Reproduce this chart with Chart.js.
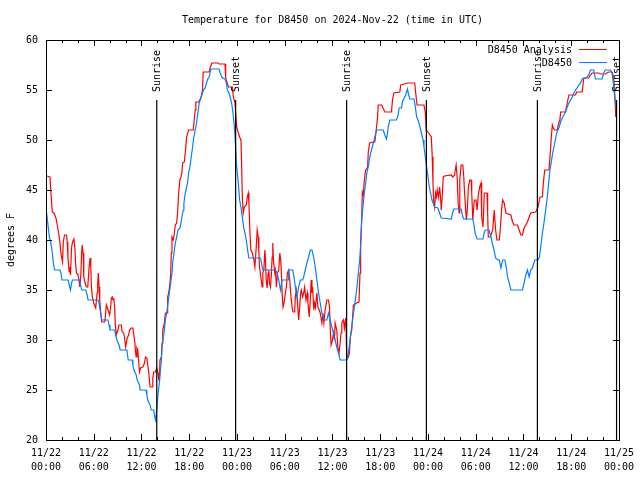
<!DOCTYPE html>
<html>
<head>
<meta charset="utf-8">
<script src="https://cdn.jsdelivr.net/npm/chart.js@4"></script>
<style>
  body { margin: 0; background: #fff; }
</style>
</head>
<body>
<canvas id="canvasTemp" width="640" height="480"></canvas>
<script>
// hours since 11/22 00:00 UTC
var analysisHours = [0.08,0.5,0.58,0.71,0.79,1.0,1.25,1.42,1.58,1.75,1.83,1.96,2.08,2.17,2.33,2.58,2.67,2.75,2.92,3.0,3.08,3.21,3.33,3.5,3.63,3.71,3.83,4.04,4.17,4.25,4.38,4.46,4.54,4.67,4.75,4.88,5.0,5.08,5.25,5.42,5.54,5.63,5.71,5.83,6.0,6.25,6.42,6.5,6.58,6.67,6.75,6.88,7.0,7.38,7.46,7.58,7.71,7.88,8.0,8.13,8.21,8.33,8.42,8.5,8.63,8.71,8.83,9.04,9.17,9.46,9.58,9.75,9.88,10.0,10.21,10.38,10.5,10.71,10.92,11.04,11.17,11.25,11.33,11.42,11.54,11.63,11.75,11.88,12.17,12.38,12.5,12.67,12.79,12.92,13.0,13.08,13.33,13.42,13.54,13.75,13.92,14.08,14.17,14.25,14.33,14.5,14.58,14.67,14.88,15.0,15.21,15.29,15.42,15.58,15.67,15.75,15.83,16.0,16.13,16.25,16.42,16.54,16.67,16.83,16.96,17.08,17.17,17.38,17.5,17.67,17.92,18.5,18.63,18.75,18.83,19.17,19.46,19.67,19.75,20.5,20.63,20.83,21.54,21.75,22.5,22.58,22.92,23.42,23.54,23.75,23.83,23.96,24.17,24.33,24.5,24.58,24.67,24.79,24.92,25.17,25.29,25.42,25.5,25.63,25.75,25.92,26.13,26.25,26.42,26.54,26.67,26.75,26.83,27.0,27.17,27.25,27.38,27.5,27.58,27.67,27.79,27.92,28.0,28.08,28.21,28.33,28.42,28.5,28.58,28.75,28.83,28.96,29.08,29.25,29.38,29.5,29.58,29.67,29.79,29.92,30.08,30.21,30.33,30.5,30.63,30.75,30.92,31.04,31.25,31.33,31.46,31.58,31.75,31.88,32.0,32.08,32.25,32.38,32.5,32.67,32.83,32.92,33.08,33.21,33.33,33.42,33.5,33.63,33.75,33.83,34.04,34.17,34.33,34.46,34.67,34.79,34.92,35.08,35.29,35.5,35.63,35.71,35.83,36.0,36.13,36.25,36.33,36.54,36.67,36.83,36.96,37.08,37.17,37.38,37.5,37.67,37.79,38.0,38.13,38.25,38.42,38.63,39.04,39.33,39.46,39.54,39.67,39.75,39.88,40.0,40.17,40.42,40.5,40.67,41.13,41.33,41.67,41.75,42.17,42.58,43.42,43.54,43.71,44.46,44.58,45.5,46.33,46.46,46.63,47.5,47.67,47.79,48.08,48.42,48.54,48.63,48.71,48.83,48.96,49.08,49.17,49.33,49.46,49.58,49.67,49.79,49.92,50.08,50.92,51.13,51.33,51.54,51.67,51.79,51.92,52.0,52.17,52.38,52.5,52.58,52.71,52.83,52.96,53.08,53.25,53.42,53.5,53.63,53.75,53.83,54.04,54.17,54.33,54.5,54.67,54.75,54.92,55.08,55.42,55.5,55.58,55.83,56.0,56.13,56.33,56.5,56.67,56.96,57.08,57.25,57.38,57.58,57.79,58.42,58.63,58.83,59.25,59.46,59.67,59.88,60.08,60.5,60.71,60.92,61.54,61.83,62.08,62.38,62.5,62.67,63.2,63.33,63.42,63.5,63.63,63.75,63.92,64.25,64.42,64.58,64.67,65.29,65.5,65.71,66.54,66.67,67.38,67.58,68.21,68.42,68.63,69.46,69.67,70.29,70.5,70.71,71.13,71.33,71.5,71.6];
var analysisTemps = [46.4,46.3,45.2,43.7,42.8,42.7,42.2,41.5,40.7,39.8,39.0,38.3,37.8,39.8,40.5,40.5,39.8,38.3,36.8,37.3,36.5,39.2,39.8,40.1,39.2,37.8,36.7,36.5,35.8,35.3,36.5,38.3,39.5,38.7,36.3,35.8,35.5,35.3,35.3,37.3,38.2,37.3,35.3,34.3,33.7,33.2,34.7,35.7,36.7,35.3,34.0,32.7,31.8,31.8,32.3,33.5,33.2,32.8,32.5,33.3,34.2,34.3,34.0,34.2,33.3,31.5,30.5,31.0,31.5,31.5,30.8,30.7,30.2,29.3,30.2,30.5,31.0,31.2,31.2,30.5,29.7,28.8,28.3,29.2,29.0,28.0,26.8,27.2,27.3,27.7,28.3,28.2,27.5,26.7,26.0,25.3,25.3,26.2,26.8,26.8,27.2,26.7,26.0,26.0,28.0,28.3,29.7,31.0,31.7,32.7,32.7,34.3,34.7,35.7,36.7,38.7,40.3,40.0,40.7,41.5,41.7,42.7,44.7,46.0,46.3,46.7,47.7,47.8,48.7,50.3,51.0,51.0,52.0,53.0,53.8,53.8,54.2,55.0,56.8,56.8,57.2,57.7,57.7,57.6,57.6,56.2,55.3,55.3,54.3,53.7,52.7,51.3,50.7,50.3,50.0,47.7,44.3,42.7,43.3,43.5,44.3,44.7,43.7,40.7,39.0,38.7,38.0,37.3,39.3,41.0,40.3,38.7,37.3,36.3,35.3,36.7,37.0,39.0,38.0,36.0,35.2,36.7,37.0,35.7,35.3,36.7,38.3,39.7,38.0,36.7,37.0,35.3,36.7,37.0,38.7,38.0,36.7,34.7,33.3,33.7,34.7,35.3,36.7,37.0,36.0,34.7,33.3,32.8,32.8,34.3,35.0,34.0,32.0,33.3,34.7,35.0,34.3,34.7,35.3,34.0,34.7,33.7,32.3,34.0,36.0,34.7,35.3,33.3,33.7,33.0,34.7,33.3,33.0,32.7,31.7,32.7,31.7,33.0,34.0,34.0,33.3,31.3,29.5,30.0,30.7,30.0,31.7,31.0,29.3,28.7,29.7,30.7,31.7,32.0,31.2,32.2,28.5,28.3,28.7,30.3,31.0,33.5,33.7,33.8,36.7,39.7,42.0,44.8,44.5,46.0,47.0,47.3,48.8,49.7,49.8,49.8,52.3,53.5,53.5,52.8,52.8,54.0,54.7,54.8,55.5,55.7,55.7,54.7,53.5,53.5,52.7,51.0,50.7,50.3,48.3,45.7,44.0,43.3,44.7,44.3,45.0,44.3,45.3,44.3,43.0,44.3,46.3,46.4,46.5,46.3,46.5,47.5,46.3,43.7,42.7,46.0,47.5,47.5,46.3,45.0,43.3,42.0,43.3,45.3,46.0,46.0,44.7,42.0,43.3,44.0,44.0,43.0,44.5,45.3,45.7,42.3,41.3,44.7,44.7,42.7,40.3,40.3,40.7,41.0,43.0,41.0,40.0,40.0,41.0,43.0,44.0,43.7,42.7,42.5,41.8,41.5,41.5,41.0,40.5,40.5,41.2,41.8,42.3,42.7,42.8,43.3,44.3,44.3,45.7,47.0,47.0,48.2,49.3,50.3,51.5,51.2,51.0,51.0,51.7,52.0,52.8,52.8,53.7,54.5,54.5,54.8,54.8,56.2,56.2,56.5,56.7,56.7,56.6,56.6,56.7,56.8,56.8,56.3,54.3,52.3];

var obsHours = [0.08,0.25,0.42,0.58,0.71,0.83,0.92,1.08,1.75,1.88,2.0,2.79,2.92,3.08,3.21,3.33,4.25,4.33,4.5,5.0,5.17,5.29,6.54,6.67,6.75,6.88,7.0,7.79,7.92,8.04,8.63,8.75,8.92,9.17,9.33,10.17,10.25,10.33,10.83,10.92,11.04,11.33,11.46,11.75,11.83,12.58,12.67,12.79,13.08,13.21,13.54,13.62,13.75,13.92,14.08,14.25,14.38,14.5,14.58,14.75,14.88,15.0,15.17,15.33,15.5,15.67,15.83,15.92,16.08,16.25,16.42,16.58,16.83,16.96,17.08,17.25,17.33,17.5,17.67,17.79,17.92,18.08,18.25,18.42,18.58,18.75,18.92,19.08,19.25,19.46,19.67,19.79,20.0,20.17,20.33,20.5,20.71,21.75,21.88,22.17,22.5,22.67,22.79,23.0,23.17,23.33,23.5,23.67,23.83,23.92,24.04,24.17,24.33,24.5,24.67,24.83,25.0,25.17,25.33,25.5,26.96,27.08,27.25,28.83,29.04,29.25,29.46,29.67,30.42,30.5,31.0,31.17,31.33,31.54,31.75,31.96,32.25,32.38,32.58,32.79,33.0,33.21,33.42,33.63,33.83,34.04,34.25,34.46,34.67,34.88,35.29,35.5,35.71,35.92,36.13,36.33,36.54,36.75,36.96,37.79,37.92,38.08,38.25,38.42,38.58,38.75,38.92,39.08,39.25,39.42,39.58,39.67,39.83,40.0,40.17,40.33,40.5,40.67,40.83,41.0,41.17,41.33,41.54,42.38,42.58,42.79,42.92,43.0,43.21,44.04,44.25,44.38,44.67,44.79,45.0,45.21,45.42,45.58,45.71,46.25,46.42,46.58,46.75,47.0,47.17,47.38,47.5,47.67,47.83,48.0,48.17,48.33,48.5,48.83,49.25,49.46,49.67,50.92,51.13,51.25,52.17,52.38,52.5,53.63,53.75,53.92,54.17,54.92,55.08,55.25,55.67,55.92,56.08,56.29,56.5,56.79,56.96,57.17,57.38,57.67,57.83,58.0,58.21,58.42,59.88,60.08,60.29,60.5,60.71,60.92,61.13,61.42,61.83,62.0,62.17,62.38,62.58,62.79,63.0,63.17,63.33,63.5,63.67,63.83,64.0,64.17,64.33,64.5,64.67,64.88,65.08,65.29,65.5,65.71,65.92,66.13,66.33,66.54,66.75,66.96,67.17,67.38,67.67,68.0,68.21,68.42,68.83,69.04,69.88,70.08,70.29,70.92,71.13,71.29,71.46,71.6];
var obsTemps = [42.7,41.5,40.3,39.8,39.2,38.5,37.7,37.0,37.0,36.7,36.0,36.0,35.5,35.0,35.7,36.0,36.0,35.5,35.0,35.0,34.5,34.0,34.0,33.7,33.2,32.7,32.0,32.0,31.5,31.0,31.0,30.5,30.0,29.5,29.0,29.0,28.5,28.0,28.0,27.5,27.0,26.5,26.0,25.5,25.0,25.0,24.5,24.0,23.5,23.0,23.0,22.5,22.0,23.0,24.7,25.7,27.0,28.0,29.3,30.3,31.0,32.0,32.7,33.7,34.7,35.7,36.7,37.7,38.7,39.7,40.3,41.0,41.2,41.7,42.3,43.0,43.7,44.7,45.3,45.7,46.7,47.3,48.3,49.3,50.3,51.0,51.7,52.7,53.7,54.2,54.7,55.0,55.2,55.7,56.1,56.3,57.1,57.1,56.7,56.2,56.1,55.7,55.0,54.7,54.2,53.7,52.7,51.3,49.3,47.7,46.7,45.7,44.0,43.3,42.3,41.3,40.7,40.0,39.0,38.2,38.2,37.7,37.0,37.0,36.7,36.0,35.0,36.0,36.0,37.0,37.0,36.3,35.3,34.3,35.3,36.0,36.0,36.3,37.0,37.7,38.3,39.0,39.0,38.3,37.3,36.0,34.7,33.7,32.7,32.0,32.0,32.7,32.0,31.3,30.7,30.0,29.3,28.7,28.0,28.0,28.2,29.2,30.3,31.3,32.3,33.3,34.3,35.3,36.7,38.0,40.0,42.0,43.3,44.7,45.7,46.8,47.3,48.2,48.8,49.3,49.8,50.3,51.0,51.0,50.5,50.1,50.7,51.3,52.0,52.0,52.5,53.2,53.2,53.8,54.2,54.5,55.1,54.5,54.1,54.1,53.3,52.3,52.0,51.3,50.7,50.0,49.3,48.3,47.3,46.3,45.3,44.7,44.0,43.3,43.2,42.7,42.2,42.1,42.8,43.1,43.1,42.3,42.1,42.1,41.7,40.7,40.1,40.1,40.8,41.0,41.0,40.3,39.7,39.0,38.2,38.0,38.0,37.2,38.0,38.0,37.3,36.3,35.7,35.0,35.0,35.7,36.5,37.0,36.3,37.0,37.2,38.0,38.0,38.3,39.3,40.7,41.7,43.0,44.3,45.7,47.0,47.8,48.7,49.3,50.0,50.7,51.0,51.3,51.8,52.2,52.5,52.8,53.3,53.7,54.0,54.3,54.7,55.0,55.2,55.5,55.7,56.1,56.2,56.3,56.5,57.0,57.0,56.1,56.1,56.7,57.0,57.0,56.7,55.7,54.3,53.3];

var sunHours = [13.92, 23.83, 37.78, 47.8, 61.75, 71.7];
var sunLabels = ['Sunrise', 'Sunset', 'Sunrise', 'Sunset', 'Sunrise', 'Sunset'];
var sunLineTop = 54;
var dayLabels = ['11/22', '11/23', '11/24', '11/25'];
var seriesNames = ['D8450 Analysis', 'D8450'];
var seriesColors = ['#ff0000', '#0080ff'];
var chartTitle = 'Temperature for D8450 on 2024-Nov-22 (time in UTC)';
var yTitle = 'degrees F';

var FONT = '10px "DejaVu Sans Mono", monospace';

function toPoints(xs, ys){
    var pts = [];
    for(var i = 0; i < xs.length; i++){
        pts.push({x: xs[i], y: ys[i]});
    }
    return pts;
}

function hourLabel(value){
    var day = Math.floor(value / 24);
    var hr = value % 24;
    return [dayLabels[day], (hr < 10 ? '0' : '') + hr + ':00'];
}

function createDatasets(){
    var sets = [
        {label: seriesNames[0], data: toPoints(analysisHours, analysisTemps), borderColor: seriesColors[0], order: 2},
        {label: seriesNames[1], data: toPoints(obsHours, obsTemps), borderColor: seriesColors[1], order: 1}
    ];
    sets.forEach(function(s){
        s.borderWidth = 1.2;
        s.pointRadius = 0;
        s.tension = 0;
        s.fill = false;
    });
    for(var i = 0; i < sunHours.length; i++){
        sets.push({
            label: sunLabels[i],
            data: [{x: sunHours[i], y: sunLineTop}, {x: sunHours[i], y: 20}],
            borderColor: '#000',
            borderWidth: 1.2,
            pointRadius: 0,
            order: 0,
            isSun: true
        });
    }
    return sets;
}

var gnuplotLook = {
    id: 'gnuplotLook',
    afterDatasetsDraw: function(chart){
        var ctx = chart.ctx;
        var xs = chart.scales.x;
        var ys = chart.scales.y;
        var top = ys.getPixelForValue(sunLineTop);
        ctx.save();
        ctx.font = FONT;
        ctx.fillStyle = '#000';
        ctx.textBaseline = 'middle';
        ctx.textAlign = 'left';
        for(var i = 0; i < sunHours.length; i++){
            var px = xs.getPixelForValue(sunHours[i]);
            ctx.save();
            ctx.translate(px + 1, top - 8);
            ctx.rotate(-Math.PI / 2);
            ctx.fillText(sunLabels[i], 0, 0);
            ctx.restore();
        }
        ctx.restore();
    },
    afterDraw: function(chart){
        var ctx = chart.ctx;
        var a = chart.chartArea;
        var xs = chart.scales.x;
        var ys = chart.scales.y;
        ctx.save();
        ctx.strokeStyle = '#000';
        ctx.lineWidth = 1;
        ctx.strokeRect(Math.round(a.left) + 0.5, Math.round(a.top) + 0.5, Math.round(a.right - a.left), Math.round(a.bottom - a.top));

        ctx.beginPath();
        for(var h = 0; h <= 72; h += 2){
            var px = Math.round(xs.getPixelForValue(h)) + 0.5;
            var len = (h % 6 === 0) ? 6 : 3;
            ctx.moveTo(px, a.bottom); ctx.lineTo(px, a.bottom - len);
            ctx.moveTo(px, a.top); ctx.lineTo(px, a.top + len);
        }
        for(var v = 20; v <= 60; v += 5){
            var py = Math.round(ys.getPixelForValue(v)) + 0.5;
            ctx.moveTo(a.left, py); ctx.lineTo(a.left + 6, py);
            ctx.moveTo(a.right, py); ctx.lineTo(a.right - 6, py);
        }
        ctx.stroke();

        ctx.font = FONT;
        ctx.fillStyle = '#000';
        ctx.textBaseline = 'middle';
        ctx.textAlign = 'center';
        ctx.fillText(chartTitle, (a.left + a.right) / 2, 20);

        ctx.save();
        ctx.translate(11, (a.top + a.bottom) / 2);
        ctx.rotate(-Math.PI / 2);
        ctx.fillText(yTitle, 0, 0);
        ctx.restore();

        // legend, gnuplot style: text right aligned, sample on the right
        ctx.textAlign = 'right';
        for(var k = 0; k < seriesNames.length; k++){
            var ly = a.top + 10 + k * 13;
            ctx.fillText(seriesNames[k], a.right - 47, ly);
            ctx.strokeStyle = seriesColors[k];
            ctx.beginPath();
            ctx.moveTo(a.right - 40, ly - 0.5);
            ctx.lineTo(a.right - 12, ly - 0.5);
            ctx.stroke();
        }
        ctx.restore();
    }
};

var config = {
    type: 'line',
    data: { datasets: createDatasets() },
    options: {
        responsive: false,
        animation: false,
        layout: { padding: { left: 0, right: 18, top: 40, bottom: 0 } },
        plugins: {
            legend: { display: false },
            title: { display: false },
            tooltip: { enabled: false }
        },
        scales: {
            x: {
                type: 'linear',
                min: 0,
                max: 72,
                grid: { drawOnChartArea: false, drawTicks: false },
                border: { display: false },
                ticks: {
                    stepSize: 6,
                    autoSkip: false,
                    maxRotation: 0,
                    padding: 6,
                    color: '#000',
                    font: { family: '"DejaVu Sans Mono", monospace', size: 10, lineHeight: 1.4 },
                    callback: function(value){ return hourLabel(value); }
                },
                afterFit: function(scale){ scale.height = 40; }
            },
            y: {
                min: 20,
                max: 60,
                grid: { drawOnChartArea: false, drawTicks: false },
                border: { display: false },
                ticks: {
                    stepSize: 5,
                    padding: 8,
                    color: '#000',
                    font: { family: '"DejaVu Sans Mono", monospace', size: 10 }
                },
                afterFit: function(scale){ scale.width = 46; }
            }
        }
    },
    plugins: [gnuplotLook]
};

var ctx = document.getElementById('canvasTemp').getContext('2d');
var chart = new Chart(ctx, config);
</script>
</body>
</html>
